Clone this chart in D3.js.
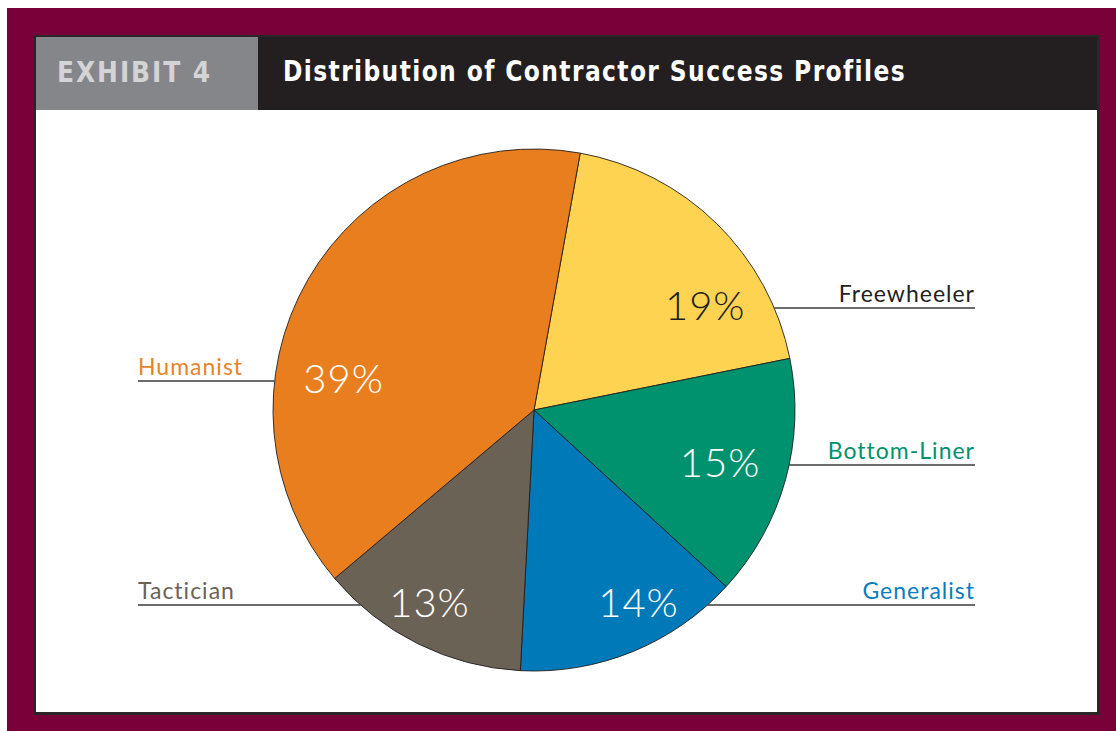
<!DOCTYPE html>
<html>
<head>
<meta charset="utf-8">
<script src="https://cdn.jsdelivr.net/npm/d3@7"></script>
<style>
  html, body { margin: 0; padding: 0; background: #fff; }
  #chart { width: 1116px; height: 731px; }
</style>
</head>
<body>
<div id="chart"></div>
<script>
// slice order is clockwise starting just right of 12 o'clock
const categories = ['Freewheeler', 'Bottom-Liner', 'Generalist', 'Tactician', 'Humanist'];
const shares = [19, 15, 14, 13, 39];
const colors = ['#FED351', '#00926E', '#0079B8', '#6A6255', '#E87E1E'];
const labelColors = ['#231F20', '#00926E', '#0A7DBD', '#6A6255', '#E8832A'];
const pctColors = ['#231F20', '#fff', '#fff', '#fff', '#fff'];

const W = 1116, H = 731;
const cx = 534, cy = 410, radius = 261;
const startAngle = 0.178; // radians

// leader line layout: y of line, which side the text sits on
const leaders = {
  'Freewheeler': { y: 308, side: 'right' },
  'Bottom-Liner': { y: 465, side: 'right' },
  'Generalist': { y: 605, side: 'right' },
  'Tactician': { y: 605, side: 'left' },
  'Humanist': { y: 381, side: 'left' }
};
const leftX = 138, rightX = 975;
const pctInset = 69; // percent label sits this far inside the pie edge, on the leader's row

const svg = d3.select('#chart').append('svg')
  .attr('width', W)
  .attr('height', H);

// maroon frame
svg.append('rect').attr('x', 7).attr('y', 8).attr('width', W - 7).attr('height', H - 8)
  .attr('fill', '#7A003A');
// panel shadow + panel
svg.append('rect').attr('x', 34).attr('y', 35).attr('width', 1066).attr('height', 680)
  .attr('fill', '#2a2627');
svg.append('rect').attr('x', 36).attr('y', 110).attr('width', 1061).attr('height', 602)
  .attr('fill', '#fff');

// header
const headFont = '"Liberation Sans Narrow", "DejaVu Sans Condensed", "Roboto Condensed", sans-serif';
svg.append('rect').attr('x', 36).attr('y', 37).attr('width', 222).attr('height', 73)
  .attr('fill', '#85868A');
svg.append('rect').attr('x', 258).attr('y', 37).attr('width', 839).attr('height', 73)
  .attr('fill', '#231F20');
svg.append('text')
  .attr('x', 57).attr('y', 82)
  .attr('fill', '#D3D4D6')
  .attr('textLength', 155)
  .attr('lengthAdjust', 'spacingAndGlyphs')
  .style('font-family', headFont)
  .style('font-weight', 'bold')
  .style('font-size', '29px')
  .style('letter-spacing', '2px')
  .text('EXHIBIT 4');
svg.append('text')
  .attr('x', 283).attr('y', 81)
  .attr('fill', '#fff')
  .attr('textLength', 623)
  .attr('lengthAdjust', 'spacingAndGlyphs')
  .style('font-family', headFont)
  .style('font-weight', 'bold')
  .style('font-size', '28px')
  .style('letter-spacing', '1.5px')
  .text('Distribution of Contractor Success Profiles');

const data = categories.map((c, i) => ({ name: c, value: shares[i], i }));

const pie = d3.pie().sort(null).value(d => d.value)
  .startAngle(startAngle).endAngle(startAngle + 2 * Math.PI);
const arc = d3.arc().innerRadius(0).outerRadius(radius);

const g = svg.append('g').attr('transform', `translate(${cx}, ${cy})`);
const arcs = pie(data);

// horizontal distance from center to the pie edge on a leader's row
const edgeX = name => {
  const dy = leaders[name].y - cy;
  return Math.sqrt(radius * radius - dy * dy);
};
const sign = name => (leaders[name].side === 'right' ? 1 : -1);

// leader lines (drawn under the pie so they meet its edge)
const lead = svg.append('g');
arcs.forEach(d => {
  const L = leaders[d.data.name];
  const x0 = cx + sign(d.data.name) * edgeX(d.data.name);
  const x1 = L.side === 'right' ? rightX : leftX;
  lead.append('line')
    .attr('x1', x0).attr('x2', x1).attr('y1', L.y).attr('y2', L.y)
    .attr('stroke', '#3a3a3a').attr('stroke-width', 1.3);
  lead.append('text')
    .attr('x', x1).attr('y', L.y - 6)
    .attr('text-anchor', L.side === 'right' ? 'end' : 'start')
    .attr('fill', labelColors[d.data.i])
    .style('font-family', 'Lato, "Noto Sans", sans-serif')
    .style('font-size', '23px')
    .style('letter-spacing', '1px')
    .text(d.data.name);
});

g.selectAll('path').data(arcs).enter()
  .append('path')
  .attr('d', arc)
  .attr('fill', d => colors[d.data.i])
  .attr('stroke', '#231F20')
  .attr('stroke-width', 0.9);

g.selectAll('text.pct').data(arcs).enter()
  .append('text')
  .attr('class', 'pct')
  .attr('text-anchor', 'middle')
  .attr('dominant-baseline', 'central')
  .attr('transform', d => {
    const n = d.data.name;
    const x = sign(n) * (edgeX(n) - pctInset);
    const y = leaders[n].y - cy - 3;
    return `translate(${x}, ${y})`;
  })
  .attr('fill', d => pctColors[d.data.i])
  .style('font-family', 'Lato, "Noto Sans", sans-serif')
  .style('font-weight', 300)
  .style('font-size', '40px')
  .style('letter-spacing', '1px')
  .text(d => d.data.value + '%');
</script>
</body>
</html>
